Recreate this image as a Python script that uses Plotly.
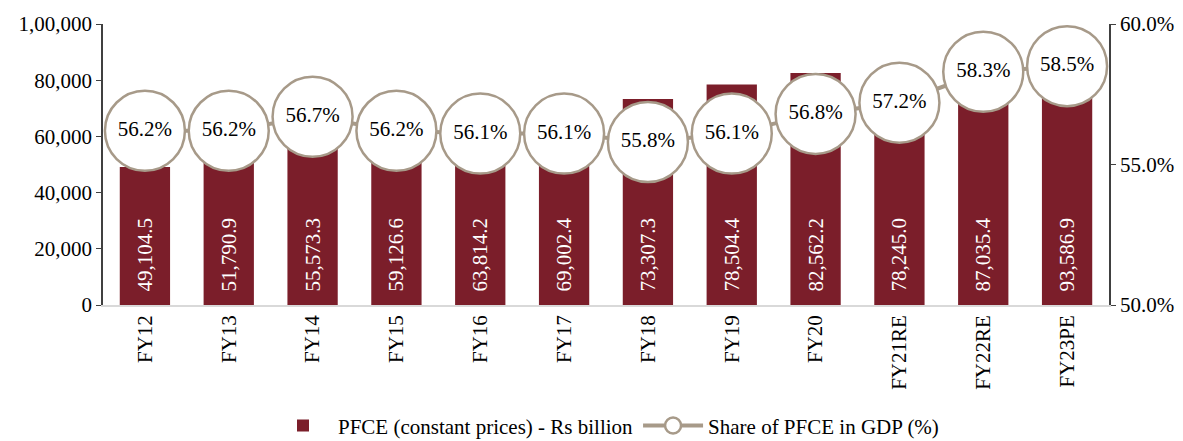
import plotly.graph_objects as go

categories = ["FY12", "FY13", "FY14", "FY15", "FY16", "FY17", "FY18", "FY19", "FY20", "FY21RE", "FY22RE", "FY23PE"]
pfce = [49104.5, 51790.9, 55573.3, 59126.6, 63814.2, 69002.4, 73307.3, 78504.4, 82562.2, 78245.0, 87035.4, 93586.9]
share = [56.2, 56.2, 56.7, 56.2, 56.1, 56.1, 55.8, 56.1, 56.8, 57.2, 58.3, 58.5]
y_ticks = [0, 20000, 40000, 60000, 80000, 100000]
y_ticktext = ["0", "20,000", "40,000", "60,000", "80,000", "1,00,000"]
y2_ticks = [50, 55, 60]
y2_ticktext = ["50.0%", "55.0%", "60.0%"]

BAR = "#7B1E2A"
LINE = "#A79A89"
FONT = "Liberation Serif"
FS = 21

fig = go.Figure()
fig.add_trace(go.Bar(
    x=categories, y=pfce, name="PFCE (constant prices) - Rs billion",
    marker=dict(color=BAR, line=dict(width=0)),
    text=["\u00a0\u00a0" + f"{v:,.1f}" for v in pfce], textposition="inside",
    insidetextanchor="start",
    textangle=-90, textfont=dict(family=FONT, size=FS, color="white"),
    constraintext="none", width=0.6,
))
fig.add_trace(go.Scatter(
    x=categories, y=share, yaxis="y2", name="Share of PFCE in GDP (%)",
    mode="lines+markers+text",
    line=dict(color=LINE, width=4),
    marker=dict(size=80, color="white", line=dict(color=LINE, width=2.5)),
    text=[f"{v:.1f}%" for v in share], textposition="middle center",
    textfont=dict(family=FONT, size=FS, color="black"),
    cliponaxis=False,
))

fig.update_layout(
    width=1175, height=433,
    margin=dict(l=95, r=74, t=16, b=136, autoexpand=False),
    plot_bgcolor="white", paper_bgcolor="white",
    font=dict(family=FONT, size=FS, color="black"),
    showlegend=True,
    legend=dict(orientation="h", x=0.5, xanchor="center", y=-0.43, yanchor="middle",
                font=dict(family=FONT, size=FS), itemwidth=60, traceorder="normal"),
    xaxis=dict(range=[-0.5, len(categories) - 0.5], tickangle=-90, showline=True,
               linecolor="#D9D9D9", linewidth=1.5, ticks="", showgrid=False,
               tickfont=dict(size=FS)),
    yaxis=dict(range=[0, 100000], tickvals=y_ticks, ticktext=y_ticktext,
               showline=True, linecolor="#404040", linewidth=1.5, ticks="outside",
               ticklen=5, tickcolor="#404040", showgrid=False, zeroline=False),
    yaxis2=dict(range=[50, 60], tickvals=y2_ticks, ticktext=y2_ticktext, overlaying="y",
                side="right", showline=True, linecolor="#404040", linewidth=1.5,
                ticks="outside", ticklen=5, tickcolor="#404040", showgrid=False, zeroline=False),
)

fig.write_html("out.html")
